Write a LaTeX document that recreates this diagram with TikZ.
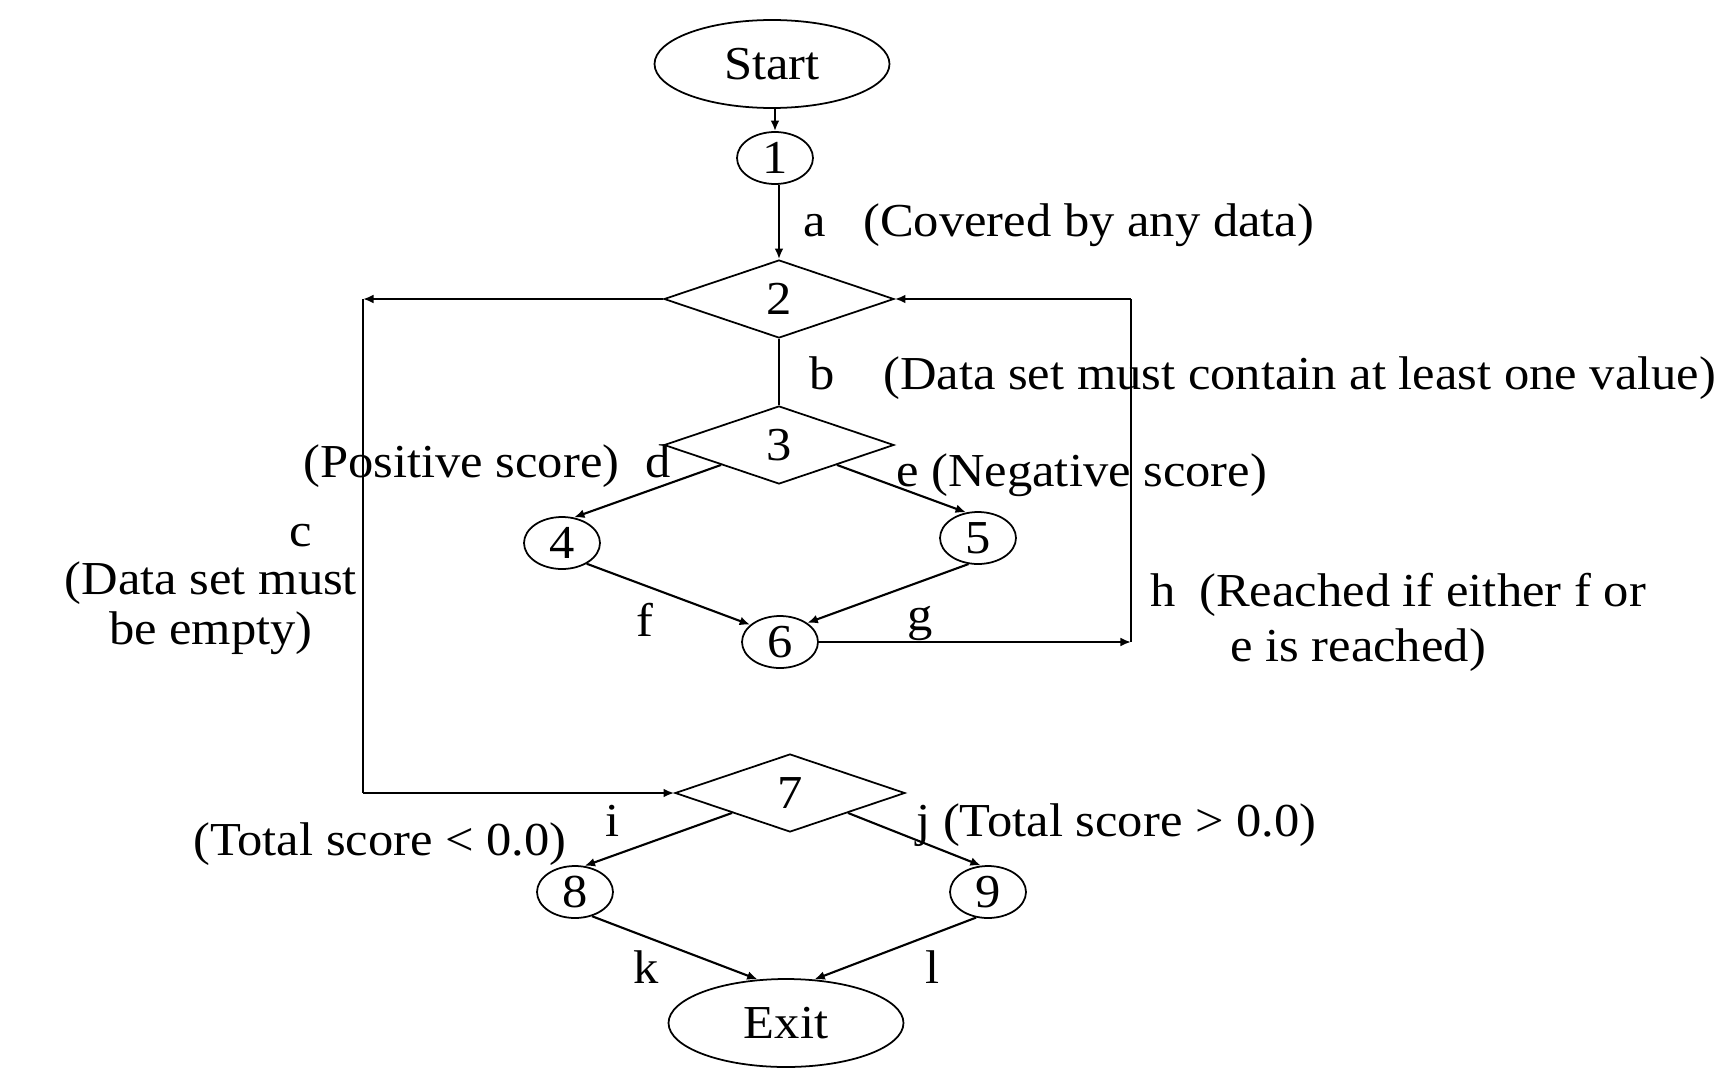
\documentclass[tikz,border=0pt]{standalone}
\usepackage{fontspec}
\setmainfont{Liberation Serif}[FakeStretch=1.07]
\usetikzlibrary{shapes.geometric,arrows.meta}

\tikzset{
  every node/.style={font=\fontsize{26.9}{32}\selectfont},
  term/.style={draw, ellipse, line width=1pt, minimum width=4.7cm, minimum height=1.76cm, inner sep=0pt},
  pnode/.style={draw, ellipse, line width=1pt, minimum width=1.52cm, minimum height=1.04cm, inner sep=0pt},
  decide/.style={draw, diamond, line width=1pt, minimum width=4.6cm, minimum height=1.56cm, inner sep=0pt},
  flow/.style={line width=1.2pt, -{Latex[length=6pt,width=5pt]}},
  plain/.style={line width=1.2pt},
  lbl/.style={anchor=base west, inner sep=0pt},
  lblc/.style={anchor=base, inner sep=0pt},
}

\begin{document}
\begin{tikzpicture}[x=0.02cm, y=-0.02cm]
  % canvas
  \fill[white] (0,0) rectangle (1730,1088);
  \useasboundingbox (0,0) rectangle (1730,1088);

  % nodes of the flow graph
  \node[term]   (start) at (772,64)   {Start};
  \node[pnode]  (n1)    at (775,158)  {1};
  \node[decide] (d2)    at (779,299)  {2};
  \node[decide] (d3)    at (779,445)  {3};
  \node[pnode]  (n4)    at (562,543)  {4};
  \node[pnode]  (n5)    at (978,538)  {5};
  \node[pnode]  (n6)    at (780,642)  {6};
  \node[decide] (d7)    at (790,793)  {7};
  \node[pnode]  (n8)    at (575,892)  {8};
  \node[pnode]  (n9)    at (988,892)  {9};
  \node[term]   (exit)  at (786,1023) {Exit};

  % bends of the outer branches
  \coordinate (cT) at (363,299);
  \coordinate (cB) at (363,793);
  \coordinate (hT) at (1131,299);
  \coordinate (hB) at (1131,642);

  % connectors
  \draw[flow]  (start.south -| n1.north) -- (n1.north);
  \draw[flow]  (n1.south -| d2.north) -- (d2.north);
  \draw[plain] (d2.south) -- (d3.north);
  \draw[flow]  (d2.west) -- (cT);
  \draw[plain] (cT) -- (cB);
  \draw[flow]  (cB) -- (d7.west);
  \draw[flow]  (d3.south west) -- (n4.65);
  \draw[flow]  (d3.south east) -- (n5.115);
  \draw[flow]  (n4.-40) -- (n6.150);
  \draw[flow]  (n5.-110) -- (n6.35);
  \draw[flow]  (n6.east) -- (hB);
  \draw[plain] (hB) -- (hT);
  \draw[flow]  (hT) -- (d2.east);
  \draw[flow]  (d7.south west) -- (n8.70);
  \draw[flow]  (d7.south east) -- (n9.105);
  \draw[flow]  (n8.-55) -- (exit.123);
  \draw[flow]  (n9.-115) -- (exit.57);

  % edge labels and notes
  \node[lbl] (la)  at (803,236)  {a};
  \node[lbl] (ta)  at (863,236)  {(Covered by any data)};
  \node[lbl] (lb)  at (809,389)  {b};
  \node[lbl] (tb)  at (883,389)  {(Data set must contain at least one value)};
  \node[lbl] (td)  at (303,477)  {(Positive score)};
  \node[lbl] (ld)  at (645,477)  {d};
  \node[lbl] (te)  at (896,486)  {e (Negative score)};
  \node[lbl] (lc)  at (289,546)  {c};
  \node[lblc] (tc1) at (211,594) {(Data set must};
  \node[lblc] (tc2) at (211,644) {be empty)};
  \node[lbl] (lf)  at (636,636)  {f};
  \node[lbl] (lg)  at (907,630)  {g};
  \node[lbl] (lh)  at (1150,606) {h};
  \node[lbl] (th1) at (1199,606) {(Reached if either f or};
  \node[lbl] (th2) at (1230,661) {e is reached)};
  \node[lbl] (li)  at (605,836)  {i};
  \node[lbl] (ti)  at (193,855)  {(Total score < 0.0)};
  \node[lbl] (tj)  at (916,836)  {j (Total score > 0.0)};
  \node[lbl] (lk)  at (633,983)  {k};
  \node[lbl] (ll)  at (925,983)  {l};
\end{tikzpicture}
\end{document}
